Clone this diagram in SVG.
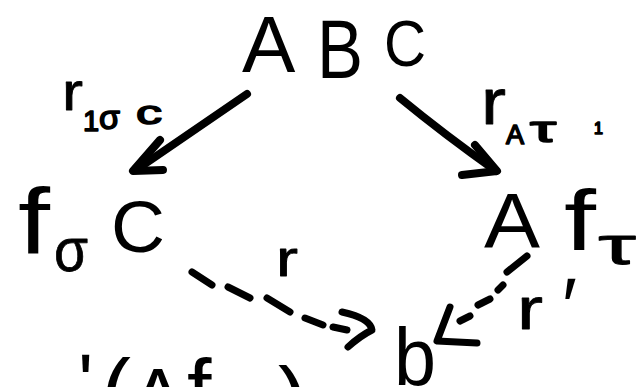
<svg xmlns="http://www.w3.org/2000/svg" width="644" height="387" viewBox="0 0 644 387">
<style>
text{font-family:"Liberation Sans","DejaVu Sans",sans-serif;fill:#000;stroke:#000;stroke-linejoin:round;stroke-width:0;}
.md{stroke-width:0.8;}
.sm{stroke-width:1.6;}
.ln{fill:none;stroke:#000;stroke-width:8;stroke-linecap:round;stroke-linejoin:round;}
.dl{fill:none;stroke:#000;stroke-width:7;stroke-linecap:round;stroke-linejoin:round;}
</style>
<rect width="644" height="387" fill="#fff"/>
<g id="node-ABC">
<text x="242" y="72" font-size="80">A</text>
<text x="317" y="78" font-size="84" textLength="46" lengthAdjust="spacingAndGlyphs">B</text>
<text x="384" y="66" font-size="64" textLength="42" lengthAdjust="spacingAndGlyphs">C</text>
</g>
<g id="node-fsigmaC">
<text x="18" y="253" font-size="93" textLength="32" lengthAdjust="spacingAndGlyphs">f</text>
<text class="md" x="54" y="271" font-size="62" textLength="34" lengthAdjust="spacingAndGlyphs">σ</text>
<text x="111" y="252" font-size="73" textLength="54" lengthAdjust="spacingAndGlyphs">C</text>
</g>
<g id="node-Aftau">
<text x="484" y="248" font-size="77" textLength="56" lengthAdjust="spacingAndGlyphs">A</text>
<text x="564" y="250" font-size="85" textLength="32" lengthAdjust="spacingAndGlyphs">f</text>
<text class="md" x="598" y="264" font-size="54" textLength="38" lengthAdjust="spacingAndGlyphs">τ</text>
</g>
<g id="node-b">
<text x="394" y="385" font-size="82" textLength="42" lengthAdjust="spacingAndGlyphs">b</text>
</g>
<g id="node-bottom">
<text x="78" y="410" font-size="80">'</text>
<text x="101" y="423" font-size="90">(</text>
<text x="131" y="424" font-size="80">A</text>
<text x="187" y="420" font-size="88">f</text>
<text x="278" y="431" font-size="90">)</text>
</g>
<g id="labels">
<text class="md" x="62" y="110" font-size="54" textLength="21" lengthAdjust="spacingAndGlyphs">r</text>
<text class="sm" x="83" y="131" font-size="29">1</text>
<text class="sm" x="99" y="129" font-size="34">σ</text>
<text class="sm" x="136" y="124" font-size="34" textLength="26" lengthAdjust="spacingAndGlyphs">c</text>
<text class="md" x="481" y="124" font-size="64" textLength="25" lengthAdjust="spacingAndGlyphs">r</text>
<text class="sm" x="506" y="144" font-size="27">A</text>
<text class="sm" x="530" y="142" font-size="36" textLength="26" lengthAdjust="spacingAndGlyphs">τ</text>
<text class="sm" x="594" y="134" font-size="16">1</text>
<text class="md" x="276" y="276" font-size="50" textLength="22" lengthAdjust="spacingAndGlyphs">r</text>
<text class="md" x="517" y="329" font-size="60" textLength="26" lengthAdjust="spacingAndGlyphs">r</text>
<text x="562" y="334" font-size="80">′</text>
</g>
<g id="connectors">
<path class="ln" d="M247,94 L136,170"/>
<path class="ln" d="M160,140 L133,171 L163,170"/>
<path class="ln" d="M400,98 Q445,135 496,171"/>
<path class="ln" d="M475,145 L497,171 L462,175"/>
<path class="dl" d="M192,272 L212,285 M228,287 L250,298 M267,298 L290,312 M305,318 L323,325 M333,327 L347,330"/>
<path class="dl" d="M342,312 Q370,318 372,330 Q360,336 348,347"/>
<path class="dl" d="M527,256 L507,272 M503,285 L498,290 M490,299 L478,305 M470,316 L460,321"/>
<path class="dl" d="M450,307 L437,341 L477,343"/>
</g>
</svg>
